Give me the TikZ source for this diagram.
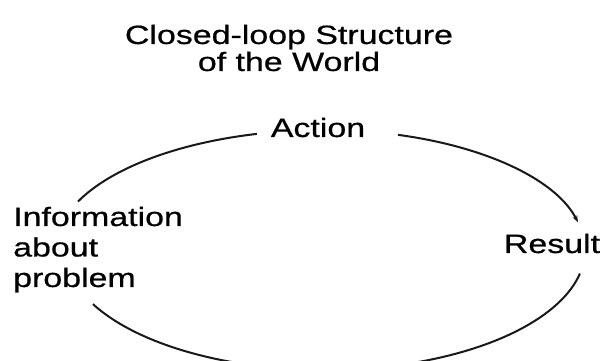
\documentclass[tikz,border=0pt]{standalone}
\usepackage{fontspec}
\setmainfont{Liberation Sans}[FakeStretch=1.28,FakeBold=0.6]
\usetikzlibrary{arrows.meta,calc}
\begin{document}
\begin{tikzpicture}[x=1pt,y=1pt,
  lbl/.style={inner sep=0pt,font=\fontsize{26.5}{30.5}\selectfont,text=black},
  loop/.style={line width=2pt,draw=black!90}]
\useasboundingbox (0,0) rectangle (600,361);
\clip (0,0) rectangle (600,361);
\fill[white] (0,0) rectangle (600,361);
% centre of the loop
\coordinate (c) at (325,111);
% texts (base anchor = baseline of the last line)
\node[lbl,anchor=base,align=center,font=\fontsize{26.5}{27}\selectfont] (title) at (289,290)
  {Closed-loop Structure\\of the World};
\node[lbl,anchor=base] (action) at (318,224) {Action};
\node[lbl,anchor=base] (result) at (552,108) {Result};
\node[lbl,anchor=base west,align=left] (info) at (13,74) {Information\\about\\problem};
% arc end points
\coordinate (a1) at ($(c)+(104.6:270 and 120)$);
\coordinate (r1) at ($(c)+(73.7:260 and 120)$);
\coordinate (r2) at ($(c)+(-11.3:260 and 120)$);
\coordinate (b2) at ($(c)+(-108:260 and 120)$);
% loop
\draw[loop] (a1) arc[start angle=104.6,end angle=156.2,x radius=270,y radius=120];
\draw[loop,-{Stealth[length=7pt,width=5pt]}] (r1) arc[start angle=73.7,end angle=13.3,x radius=260,y radius=120];
\draw[loop] (r2) arc[start angle=-11.3,end angle=-72,x radius=260,y radius=120];
\draw[loop] (b2) arc[start angle=-108,end angle=-153.2,x radius=260,y radius=120];
\end{tikzpicture}
\end{document}
